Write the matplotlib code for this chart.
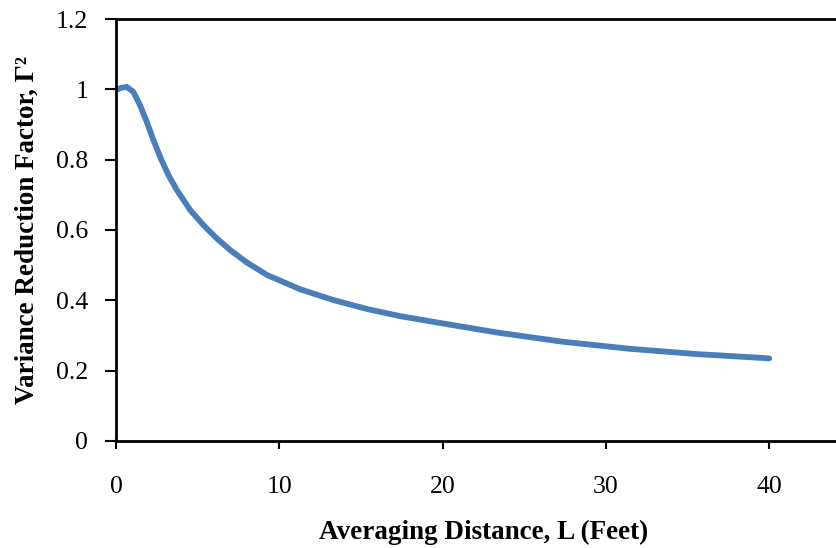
import matplotlib.pyplot as plt
import numpy as np

# averaging distance L (feet) and variance reduction factor
L = [0.0, 0.3, 0.65, 1.06, 1.47, 1.88, 2.29, 2.7, 3.21, 3.72, 4.54, 5.35,
     6.17, 6.99, 8.0, 9.25, 11.3, 13.3, 15.4, 17.4, 20.3, 23.4, 27.4,
     31.5, 35.6, 40.0]
gamma2 = [0.998, 1.004, 1.007, 0.993, 0.955, 0.908, 0.856, 0.808, 0.756,
          0.714, 0.657, 0.614, 0.576, 0.543, 0.508, 0.472, 0.431, 0.401,
          0.375, 0.355, 0.332, 0.308, 0.282, 0.262, 0.247, 0.235]

xticks = [0, 10, 20, 30, 40]
yticks = [0, 0.2, 0.4, 0.6, 0.8, 1, 1.2]
yticklabels = ['0', '0.2', '0.4', '0.6', '0.8', '1', '1.2']

plt.rcParams['font.family'] = ['Liberation Serif', 'DejaVu Serif']

fig = plt.figure(figsize=(8.37, 5.48), dpi=100)
# axes runs past the right edge like the original
ax = fig.add_axes([0.1386, 0.1953, 0.878, 0.77])

ax.plot(L, gamma2, color='#4A7EBB', lw=4.2, solid_capstyle='round',
        solid_joinstyle='round')

ax.set_xlim(0, 45)
ax.set_ylim(0, 1.2)
ax.set_xticks(xticks)
ax.set_yticks(yticks)
ax.set_yticklabels(yticklabels)
ax.tick_params(axis='both', direction='out', labelsize=18.5, width=1.5, color='black')
ax.tick_params(axis='y', length=8, pad=12)
ax.tick_params(axis='x', length=6, pad=19)
for s in ax.spines.values():
    s.set_linewidth(2)

ax.set_xlabel('Averaging Distance, L (Feet)', fontsize=19.5, fontweight='bold', labelpad=16)
ax.set_ylabel('Variance Reduction Factor, Γ²', fontsize=19.5, fontweight='bold', labelpad=12)

plt.savefig('out.png', dpi=100)
